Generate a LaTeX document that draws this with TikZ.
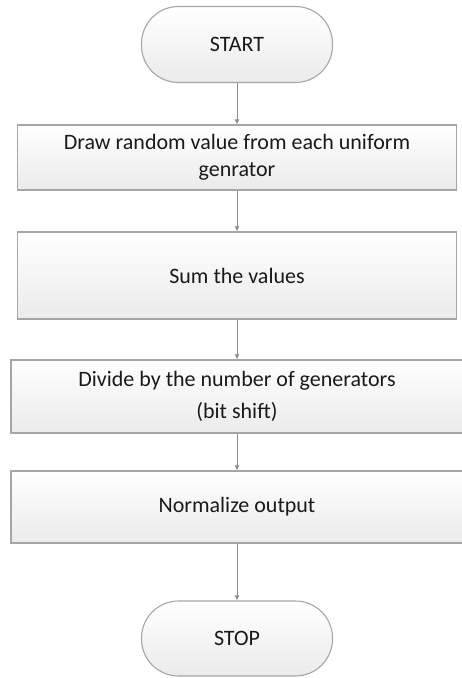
\documentclass[tikz,border=0pt]{standalone}
\usepackage{fontspec}
\setmainfont{Carlito}
\usetikzlibrary{arrows.meta}
\definecolor{edgegray}{HTML}{A6A6A6}
\definecolor{arrowgray}{HTML}{8C8C8C}
\definecolor{textgray}{HTML}{1A1A1A}

\begin{document}
\begin{tikzpicture}[x=1pt, y=-1pt,
    every node/.style={draw=edgegray, line width=1.1pt, top color=white, bottom color=black!8,
      text=textgray, font=\fontsize{22}{27}\selectfont, align=center, inner sep=0pt},
    terminal/.style={rounded corners=37pt, minimum width=191pt, minimum height=76pt},
    process/.style={rectangle, minimum width=439pt},
    wideprocess/.style={rectangle, minimum width=452pt},
    flow/.style={draw=arrowgray, line width=1pt, -{Latex[length=5pt, width=5pt]}}]
    \useasboundingbox (0,0) rectangle (461,678);

    \node[terminal] (start) at (237, 44.5) {START};

    \node[process, minimum height=65pt] (draw) at (237, 157.5)
      {Draw random value from each uniform\\ genrator};
      \draw[flow] (start) -- (draw);

    \node[process, minimum height=87pt] (sum) at (237, 275.5) {Sum the values};
      \draw[flow] (draw) -- (sum);

    \node[wideprocess, minimum height=73pt] (divide) at (237, 396.5)
      {Divide by the number of generators\\[5pt] (bit shift)};
      \draw[flow] (sum) -- (divide);

    \node[wideprocess, minimum height=72pt] (normalize) at (237, 507) {Normalize output};
      \draw[flow] (divide) -- (normalize);

    \node[terminal, minimum height=75pt] (stop) at (237, 638.5) {STOP};
      \draw[flow] (normalize) -- (stop);
\end{tikzpicture}
\end{document}
